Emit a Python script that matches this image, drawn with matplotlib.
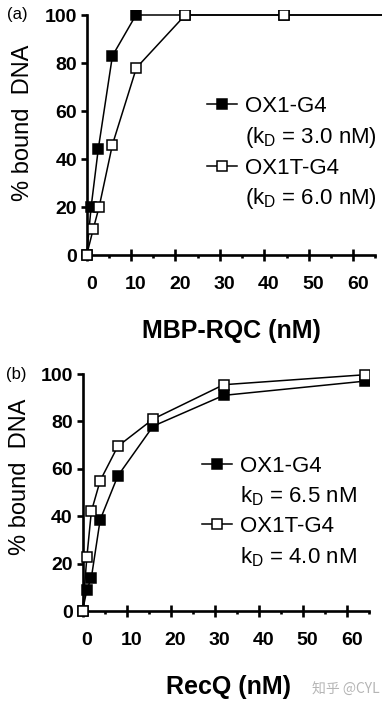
import matplotlib
matplotlib.use("Agg")
import matplotlib.pyplot as plt
from matplotlib.lines import Line2D
from matplotlib.transforms import ScaledTranslation
from matplotlib.ticker import MultipleLocator

plt.rcParams['font.family'] = ['Liberation Sans', 'DejaVu Sans']
plt.rcParams['mathtext.fontset'] = 'custom'
plt.rcParams['mathtext.rm'] = 'Liberation Sans'

# ---- data ----
# Panel (a): MBP-RQC (nM)
a_ox1_x = [0, 1.0, 2.6, 5.8, 11.1, 22.2, 44.4, 88.9]
a_ox1_y = [0, 20, 44, 83, 100, 100, 100, 100]
a_ox1t_x = [0, 1.5, 2.8, 5.8, 11.2, 22.2, 44.4, 88.9]
a_ox1t_y = [0, 11, 20, 46, 78, 100, 100, 100]
a_labels = ['OX1-G4', '(k$_\\mathregular{D}$ = 3.0 nM)',
            'OX1T-G4', '(k$_\\mathregular{D}$ = 6.0 nM)']

# Panel (b): RecQ (nM)
b_x = [0, 1, 2, 4, 8, 16, 32, 64]
b_ox1_y = [0, 9, 14, 38.5, 57, 78, 91, 97]
b_ox1t_y = [0, 23, 42, 55, 69.5, 81, 95.5, 99.7]
b_labels = ['OX1-G4', 'k$_\\mathregular{D}$ = 6.5 nM',
            'OX1T-G4', 'k$_\\mathregular{D}$ = 4.0 nM']

xticks = [0, 10, 20, 30, 40, 50, 60]
yticks = [0, 20, 40, 60, 80, 100]

W, H = 391, 710
fig = plt.figure(figsize=(W / 100, H / 100), dpi=100)

def px_axes(left, top, right, bottom):
    return fig.add_axes([left / W, 1 - bottom / H, (right - left) / W, (bottom - top) / H])

ax1 = px_axes(77.8, 10.2, 382.0, 264.6)
ax2 = px_axes(73.7, 369.3, 369.2, 620.5)

ms = 7
mew = 1.1
lw = 1.1

def style(ax, xmax):
    ax.set_xlim(-2, xmax)
    ax.set_ylim(-4, 102)
    for s in ['top', 'right']:
        ax.spines[s].set_visible(False)
    ax.spines['left'].set_position(('data', 0))
    ax.spines['bottom'].set_position(('data', 0))
    ax.spines['left'].set_bounds(0, 100)
    ax.spines['bottom'].set_bounds(0, 65)
    for s in ['left', 'bottom']:
        ax.spines[s].set_linewidth(1.9)
    ax.set_xticks(xticks)
    ax.set_yticks(yticks)
    ax.xaxis.set_minor_locator(MultipleLocator(5))
    ax.tick_params(axis='x', which='major', direction='inout', length=8, width=1.9,
                   pad=11, labelsize=14)
    ax.tick_params(axis='x', which='minor', direction='out', length=2.5, width=1.9)
    ax.tick_params(axis='y', which='major', direction='out', length=4.5, width=1.9,
                   pad=2.5, labelsize=14)
    for lab in ax.get_xticklabels() + ax.get_yticklabels():
        lab.set_fontweight('bold')
    off = ScaledTranslation(4.5 / 100, 0, fig.dpi_scale_trans)
    for lab in ax.get_xticklabels():
        lab.set_transform(lab.get_transform() + off)
    ax.patch.set_visible(False)

style(ax1, 66.5)
style(ax2, 65)

def series(ax, x, y, filled, z):
    ax.plot(x, y, color='black', lw=lw, marker='s', ms=ms, mew=mew,
            mfc='black' if filled else 'white', mec='black', zorder=z)

series(ax1, a_ox1_x, a_ox1_y, True, 3)
series(ax1, a_ox1t_x, a_ox1t_y, False, 4)
series(ax2, b_x, b_ox1_y, True, 3)
series(ax2, b_x, b_ox1t_y, False, 4)

def legend(ax, labels, x, y):
    hf = Line2D([], [], color='black', lw=lw, marker='s', ms=ms, mew=mew, mfc='black', mec='black')
    ho = Line2D([], [], color='black', lw=lw, marker='s', ms=ms, mew=mew, mfc='white', mec='black')
    hb = Line2D([], [], color='none', lw=0)
    ax.legend([hf, hb, ho, hb], labels, loc='upper left',
              bbox_to_anchor=(x / W, 1 - y / H), bbox_transform=fig.transFigure,
              frameon=False, borderpad=0, borderaxespad=0, handlelength=1.35,
              handletextpad=0.35, labelspacing=0.35, fontsize=16)

legend(ax1, a_labels, 207, 96)
legend(ax2, b_labels, 202, 456)

# axis labels
fig.text(23 / W, 1 - 123 / H, '% bound  DNA', rotation=90, ha='center', va='center', fontsize=17)
fig.text(20 / W, 1 - 477 / H, '% bound  DNA', rotation=90, ha='center', va='center', fontsize=17)
fig.text(231 / W, 1 - 331 / H, 'MBP-RQC (nM)', ha='center', va='center', fontsize=18, fontweight='bold')
fig.text(228 / W, 1 - 687 / H, 'RecQ (nM)', ha='center', va='center', fontsize=18, fontweight='bold')

# panel labels
fig.text(17 / W, 1 - 15 / H, '(a)', ha='center', va='center', fontsize=12)
fig.text(16 / W, 1 - 375 / H, '(b)', ha='center', va='center', fontsize=12)

# watermark
fig.text(346 / W, 1 - 690 / H, '知乎 @CYL', ha='center', va='center', fontsize=10,
         color='#b5b5b5', family=['Noto Sans CJK SC', 'DejaVu Sans'])

fig.savefig('out.png', dpi=100)
